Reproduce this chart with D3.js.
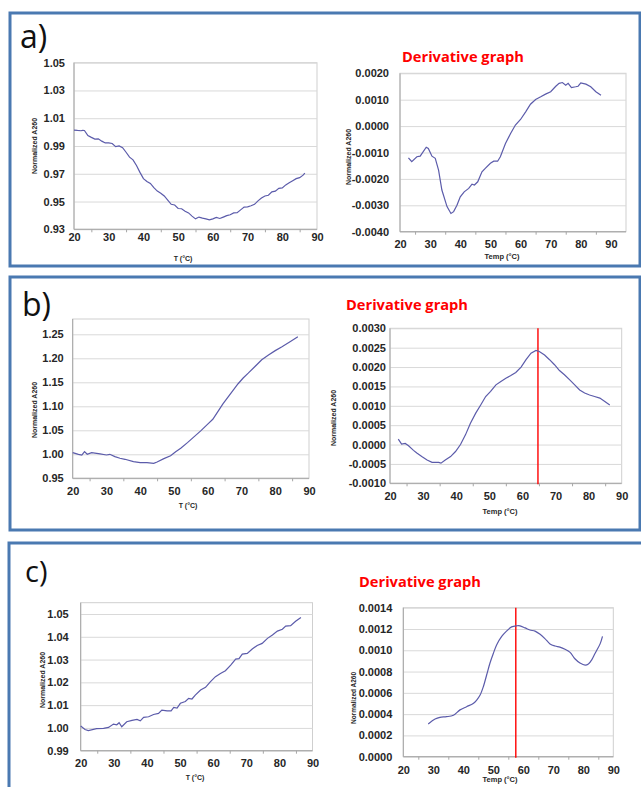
<!DOCTYPE html>
<html><head><meta charset="utf-8">
<script src="https://cdn.jsdelivr.net/npm/d3@7/dist/d3.min.js"></script>
<style>body{margin:0;background:#fff}svg{display:block}</style>
</head><body>
<svg id="fig" width="641" height="787"></svg>
<script>
// ---------------- DATA ----------------
const xTicks = [20, 30, 40, 50, 60, 70, 80, 90];
const xMinor = [25, 35, 45, 55, 65, 75, 85];

// a) melting curve
const aMeltT = [20,21,22,22.5,23,24,25,26,27,28,29,30,31,32,33,34,35,36,37,38,39,40,41,42,43,44,45,46,47,48,49,50,51,52,53,54,55,56,57,58,59,60,61,62,63,64,65,66,67,68,69,70,71,72,73,74,75,76,77,78,79,80,81,82,83,84,85,86,86.5];
const aMeltA = [1.0015,1.0012,1.0010,1.0013,1.0012,0.9975,0.9962,0.9950,0.9952,0.9935,0.9922,0.9922,0.9918,0.9895,0.9900,0.9888,0.9855,0.9820,0.9800,0.9760,0.9710,0.9665,0.9645,0.9630,0.9600,0.9575,0.9560,0.9540,0.9510,0.9480,0.9475,0.9450,0.9448,0.9430,0.9418,0.9395,0.9375,0.9388,0.9380,0.9375,0.9368,0.9375,0.9385,0.9378,0.9388,0.9398,0.9405,0.9418,0.9420,0.9440,0.9460,0.9462,0.9470,0.9480,0.9505,0.9525,0.9540,0.9545,0.9570,0.9575,0.9595,0.9598,0.9620,0.9635,0.9650,0.9665,0.9672,0.9690,0.9705];
const aMeltTicks = [0.93, 0.95, 0.97, 0.99, 1.01, 1.03, 1.05];

// a) derivative
const aDerT = [22.8,23.9,25.6,26.7,28.7,29.4,30.6,31.7,32.8,33.9,35.6,36.9,37.8,38.9,40,41.3,42.8,43.9,44.7,45.8,47.2,48.3,50,51.1,52.4,53.3,55,56.7,58.3,60,61.7,63.3,65,66.7,68.3,70,71.7,72.8,73.9,75,75.8,76.9,78.3,79.1,80,81.7,83.3,85,86.7];
const aDerV = [-0.00120,-0.00135,-0.00116,-0.00114,-0.00080,-0.00085,-0.00114,-0.00122,-0.00167,-0.00242,-0.00305,-0.00331,-0.00324,-0.00300,-0.00268,-0.00249,-0.00236,-0.00220,-0.00223,-0.00211,-0.00173,-0.00160,-0.00141,-0.00133,-0.00133,-0.00116,-0.00066,-0.00028,0.00004,0.00025,0.00054,0.00083,0.00101,0.00111,0.00121,0.00130,0.00151,0.00162,0.00165,0.00155,0.00162,0.00146,0.00149,0.00151,0.00164,0.00159,0.00149,0.00130,0.00117];
const aDerTicks = [-0.004, -0.003, -0.002, -0.001, 0, 0.001, 0.002];

// b) melting curve
const bMeltT = [20,21.7,22.7,23.5,24.3,25.6,28.1,30,31,32.5,34,35.5,38,40,42,44,45,47,49,50.5,52,54,56,58,60,61.5,63,64.5,66,67.5,69,70.5,72,74,76,78,80,82,84.5,86.7];
const bMeltA = [1.0035,1.0000,0.9985,1.0055,1.0000,1.0035,1.0007,0.9986,1.0000,0.9951,0.9917,0.9896,0.9847,0.9826,0.9826,0.9812,0.9840,0.9910,0.9970,1.0055,1.0125,1.0243,1.0368,1.0493,1.0630,1.0730,1.0890,1.1050,1.1190,1.1330,1.1470,1.1590,1.1690,1.1830,1.1970,1.2070,1.2160,1.2240,1.2350,1.2450];
const bMeltTicks = [0.95, 1.00, 1.05, 1.10, 1.15, 1.20, 1.25];

// b) derivative
const bDerT = [22.5,23.5,24.6,25.6,27.1,28.1,29.6,31.2,32.7,33.7,34.7,35.4,36.7,38.3,39.8,41.3,42.8,44.3,45.9,47.4,48.9,50.4,52,53.5,55,56.5,58,59.6,61.1,62.6,64.1,65.1,66.7,68.2,69.7,71.2,72.7,74.3,75.8,77.3,78.8,80.3,81.8,83.4,84.9,86.4];
const bDerV = [0.00014,0.00001,0.00003,-0.00003,-0.00015,-0.00022,-0.00031,-0.00040,-0.00046,-0.00046,-0.00046,-0.00048,-0.00040,-0.00031,-0.00018,0.00000,0.00025,0.00055,0.00081,0.00102,0.00124,0.00137,0.00154,0.00163,0.00171,0.00178,0.00186,0.00200,0.00219,0.00236,0.00243,0.00240,0.00231,0.00219,0.00206,0.00191,0.00180,0.00167,0.00154,0.00141,0.00133,0.00128,0.00124,0.00120,0.00111,0.00102];
const bDerTicks = [-0.001, -0.0005, 0, 0.0005, 0.001, 0.0015, 0.002, 0.0025, 0.003];
const bTm = 64.7;

// c) melting curve
const cMeltT = [20,21.3,22.3,24.8,26.9,28.4,29.9,30.9,31.6,32.4,33.9,35.5,37,38,39,40.5,42,43.5,44.5,46.1,47.3,48.1,49.1,50.1,51.6,52.6,53.6,54.6,56.2,57.7,59.2,60.7,62.2,63.7,65.3,66.8,67.8,68.8,70.3,71.8,73.3,74.8,76.4,77.9,79.4,80.9,81.9,83.4,84.9,86.5];
const cMeltA = [1.0008,0.9993,0.9988,0.9997,0.9998,1.0002,1.0017,1.0014,1.0023,1.0005,1.0027,1.0033,1.0037,1.0031,1.0046,1.0049,1.0059,1.0064,1.0078,1.0075,1.0075,1.0090,1.0087,1.0108,1.0116,1.0130,1.0127,1.0144,1.0166,1.0178,1.0203,1.0225,1.0239,1.0251,1.0276,1.0302,1.0304,1.0324,1.0327,1.0346,1.0362,1.0371,1.0393,1.0408,1.0425,1.0433,1.0447,1.0449,1.0468,1.0485];
const cMeltTicks = [0.99, 1.00, 1.01, 1.02, 1.03, 1.04, 1.05];

// c) derivative
const cDerT = [28.3,30.6,32.2,34.4,36.7,38.9,41.1,43.3,44.4,45.6,46.7,47.8,48.9,50,51.1,52.8,54.4,56.1,57.8,58.9,60.6,62.2,63.9,65.6,67.2,68.9,70.6,72.2,73.9,75.6,77.2,78.9,80.6,81.7,82.8,83.9,85.6,86.4];
const cDerV = [0.000307,0.000354,0.00037,0.000376,0.00039,0.00044,0.00047,0.0005,0.00053,0.00058,0.00066,0.00077,0.00088,0.00097,0.00105,0.00113,0.00118,0.00122,0.00123,0.00123,0.00121,0.00119,0.00118,0.00115,0.00111,0.00106,0.00104,0.00103,0.00101,0.00098,0.00092,0.00088,0.00086,0.00087,0.00091,0.00097,0.00106,0.00113];
const cDerTicks = [0, 0.0002, 0.0004, 0.0006, 0.0008, 0.001, 0.0012, 0.0014];
const cTm = 57.5;

const panelLabels = ["a)", "b)", "c)"];
const derivTitle = "Derivative graph";
const yTitle = "Normalized A260";
const xTitleMelt = "T (\u00B0C)";
const xTitleDer = "Temp (\u00B0C)";

// ---------------- LAYOUT ----------------
const svg = d3.select("#fig");
const BLUE = "#4a79b1", LINE = "#5b5baa", GRID = "#d9d9d9", BOX = "#cfcfcf", AX = "#a6a6a6", TXT = "#262626";
const FONT = "'Liberation Sans', Arial, sans-serif";

const f2 = d3.format(".2f");
const f4 = v => d3.format(".4f")(v).replace("\u2212", "-");

// panel frames
svg.append("rect").attr("x", 10).attr("y", 13).attr("width", 630).attr("height", 253)
  .attr("fill", "none").attr("stroke", BLUE).attr("stroke-width", 3);
svg.append("rect").attr("x", 10).attr("y", 277).attr("width", 630).attr("height", 253)
  .attr("fill", "none").attr("stroke", BLUE).attr("stroke-width", 3);
svg.append("rect").attr("x", 9).attr("y", 543).attr("width", 640).attr("height", 300)
  .attr("fill", "none").attr("stroke", BLUE).attr("stroke-width", 3);

const labelPos = [{x: 20, y: 48, s: 32}, {x: 22, y: 316, s: 32}, {x: 25, y: 582, s: 29}];
panelLabels.forEach((t, i) => {
  svg.append("text").attr("x", labelPos[i].x).attr("y", labelPos[i].y)
    .attr("font-family", "'Open Sans', 'Noto Sans', sans-serif").attr("font-size", labelPos[i].s)
    .attr("fill", "#111").text(t);
});

const titlePos = [{x: 402, y: 62}, {x: 346, y: 310}, {x: 359, y: 587}];
titlePos.forEach(p => {
  svg.append("text").attr("x", p.x).attr("y", p.y)
    .attr("font-family", "'Open Sans', 'Liberation Sans', sans-serif").attr("font-weight", "bold")
    .attr("font-size", 15).attr("fill", "#ff0000")
    .attr("textLength", 122).attr("lengthAdjust", "spacingAndGlyphs").text(derivTitle);
});

function chart(c) {
  const x = d3.scaleLinear().domain(c.xDomain).range([c.left, c.right]);
  const y = d3.scaleLinear().domain([c.yTicks[0], c.yTicks[c.yTicks.length - 1]]).range([c.bottom, c.yTop]);
  const g = svg.append("g");
  const w = c.right - c.left;
  // plot box
  g.append("rect").attr("x", c.left).attr("y", c.boxTop).attr("width", w).attr("height", c.bottom - c.boxTop)
    .attr("fill", "#fff").attr("stroke", BOX).attr("stroke-width", 1);
  // gridlines
  const grid = g.append("g").attr("transform", `translate(${c.left},0)`)
    .call(d3.axisLeft(y).tickValues(c.yTicks).tickSize(-w).tickFormat(""));
  grid.select(".domain").remove();
  grid.selectAll("line").attr("stroke", GRID).attr("stroke-width", 1);
  // axis lines
  g.append("line").attr("x1", c.left).attr("x2", c.left).attr("y1", c.boxTop).attr("y2", c.bottom)
    .attr("stroke", AX);
  g.append("line").attr("x1", c.left).attr("x2", c.right).attr("y1", c.bottom).attr("y2", c.bottom)
    .attr("stroke", AX);
  // minor ticks
  const mn = g.append("g").attr("transform", `translate(0,${c.bottom})`)
    .call(d3.axisBottom(x).tickValues(xMinor).tickSize(3).tickFormat(""));
  mn.select(".domain").remove();
  mn.selectAll("line").attr("stroke", AX);
  // y axis labels
  const ya = g.append("g").attr("transform", `translate(${c.left},0)`)
    .call(d3.axisLeft(y).tickValues(c.yTicks).tickSize(0).tickPadding(c.yGap).tickFormat(c.fmt));
  ya.select(".domain").remove();
  ya.selectAll("text").attr("font-family", FONT).attr("font-weight", "bold").attr("font-size", 11).attr("fill", TXT);
  // x axis labels
  const xa = g.append("g").attr("transform", `translate(0,${c.bottom})`)
    .call(d3.axisBottom(x).tickValues(xTicks).tickSize(0).tickPadding(c.xGap).tickFormat(d3.format("d")));
  xa.select(".domain").remove();
  xa.selectAll("text").attr("font-family", FONT).attr("font-weight", "bold").attr("font-size", 11).attr("fill", TXT);
  // titles
  g.append("text").attr("transform", `translate(${c.yt[0]},${c.yt[1]}) rotate(-90)`)
    .attr("text-anchor", "middle").attr("font-family", FONT).attr("font-weight", "bold")
    .attr("font-size", c.yt[2]).attr("fill", TXT).text(yTitle);
  g.append("text").attr("x", c.xt[0]).attr("y", c.xt[1]).attr("text-anchor", "middle")
    .attr("font-family", FONT).attr("font-weight", "bold").attr("font-size", c.xt[2])
    .attr("fill", TXT).text(c.xTitle);
  // marker line
  if (c.tm !== undefined) {
    g.append("line").attr("x1", x(c.tm)).attr("x2", x(c.tm)).attr("y1", c.boxTop).attr("y2", c.bottom + 1)
      .attr("stroke", "#ff0000").attr("stroke-width", 1.4);
  }
  // data line
  const pts = c.xs.map((v, i) => [v, c.ys[i]]);
  g.append("path").datum(pts)
    .attr("d", d3.line().x(d => x(d[0])).y(d => y(d[1])).curve(c.curve || d3.curveLinear))
    .attr("fill", "none").attr("stroke", LINE).attr("stroke-width", 1.2);
}

chart({xs: aMeltT, ys: aMeltA, yTicks: aMeltTicks, fmt: f2, xDomain: [20, 90],
  left: 74, right: 317, boxTop: 62.7, yTop: 62.7, bottom: 229.3, yGap: 9, xGap: 4,
  yt: [37, 146, 7], xt: [183, 260.5, 7], xTitle: xTitleMelt});
chart({xs: aDerT, ys: aDerV, yTicks: aDerTicks, fmt: f4, xDomain: [20, 95],
  left: 400, right: 626, boxTop: 73.3, yTop: 73.3, bottom: 231.7, yGap: 11, xGap: 9,
  yt: [351, 157, 7], xt: [502, 259, 7.5], xTitle: xTitleDer});
chart({xs: bMeltT, ys: bMeltA, yTicks: bMeltTicks, fmt: f2, xDomain: [20, 90],
  left: 72.7, right: 309, boxTop: 319, yTop: 334.3, bottom: 478.3, yGap: 9, xGap: 9,
  yt: [37, 410, 7], xt: [188, 508, 7], xTitle: xTitleMelt});
chart({xs: bDerT, ys: bDerV, yTicks: bDerTicks, fmt: f4, xDomain: [20, 90],
  left: 390, right: 621.7, boxTop: 328.3, yTop: 328.3, bottom: 483.3, yGap: 4, xGap: 9, tm: bTm,
  yt: [336, 418, 7], xt: [500, 514, 7.5], xTitle: xTitleDer});
chart({xs: cMeltT, ys: cMeltA, yTicks: cMeltTicks, fmt: f2, xDomain: [20, 90],
  left: 80.7, right: 312.5, boxTop: 602.7, yTop: 614, bottom: 750.7, yGap: 12, xGap: 9,
  yt: [45, 680, 7], xt: [195, 780, 7], xTitle: xTitleMelt});
chart({xs: cDerT, ys: cDerV, yTicks: cDerTicks, fmt: f4, xDomain: [20, 90],
  left: 403.3, right: 613.3, boxTop: 607.7, yTop: 607.7, bottom: 756.7, yGap: 11, xGap: 10, tm: cTm,
  curve: d3.curveCatmullRom, yt: [356, 698, 6.5], xt: [500, 782, 7.5], xTitle: xTitleDer});
</script>
</body></html>
